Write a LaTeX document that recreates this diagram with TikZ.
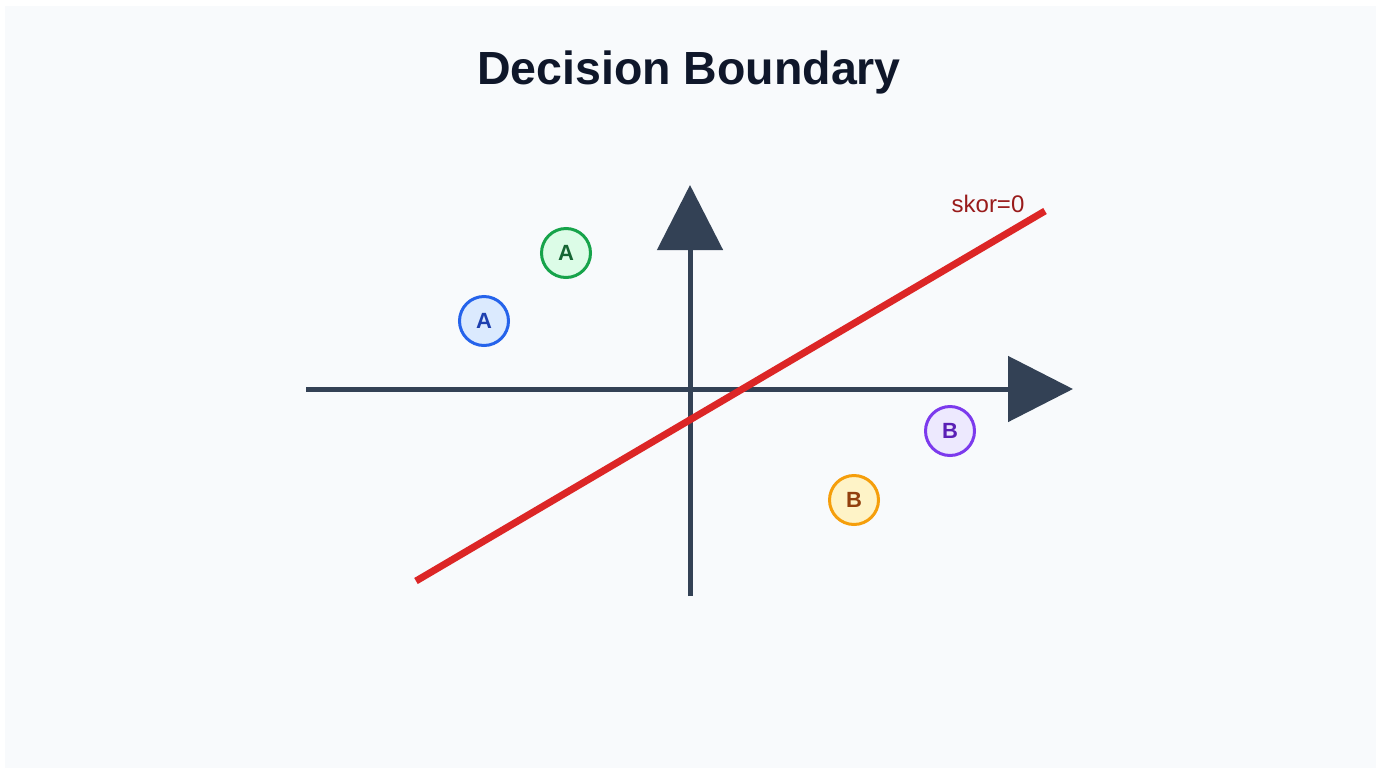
\documentclass[tikz,border=0pt]{standalone}
\usepackage{fontspec}
\setmainfont{Liberation Sans}
\usetikzlibrary{arrows.meta}
\definecolor{panel}{HTML}{F8FAFC}
\definecolor{titlec}{HTML}{0F172A}
\definecolor{axisc}{HTML}{334155}
\definecolor{boundc}{HTML}{DC2626}
\definecolor{labelc}{HTML}{991B1B}
\definecolor{bluedraw}{HTML}{2563EB}\definecolor{bluefill}{HTML}{DBEAFE}\definecolor{bluetext}{HTML}{1E40AF}
\definecolor{greendraw}{HTML}{16A34A}\definecolor{greenfill}{HTML}{DCFCE7}\definecolor{greentext}{HTML}{166534}
\definecolor{purpdraw}{HTML}{7C3AED}\definecolor{purpfill}{HTML}{EDE9FE}\definecolor{purptext}{HTML}{5B21B6}
\definecolor{orgdraw}{HTML}{F59E0B}\definecolor{orgfill}{HTML}{FEF3C7}\definecolor{orgtext}{HTML}{92400E}
\tikzset{
  axisline/.style={draw=axisc, line width=5pt, -{Triangle[length=65pt,width=65pt]}},
  point/.style={circle, minimum size=49pt, inner sep=0pt, line width=3pt, font=\bfseries\fontsize{22}{22}\selectfont},
}
\begin{document}
\begin{tikzpicture}[x=1pt,y=-1pt]
\useasboundingbox (0,0) rectangle (1382,769);
\fill[white] (0,0) rectangle (1382,769);
\fill[panel] (5,6) rectangle (1376,768);
\node[font=\bfseries\fontsize{46.5}{46.5}\selectfont, text=titlec] (title) at (689,72) {Decision Boundary};
% axes
\coordinate (xl) at (306,389);
\coordinate (xr) at (1073,389);
\coordinate (yb) at (690,596);
\coordinate (yt) at (690,185);
\draw[axisline] (xl) -- (xr);
\draw[axisline] (yb) -- (yt);
% decision boundary
\coordinate (bl) at (416,581);
\coordinate (br) at (1045,211);
\draw[boundc, line width=7pt] (bl) -- (br);
\node[text=labelc, font=\fontsize{24}{24}\selectfont] (skor) at (988,204) {skor=0};
% points
\node[point, draw=bluedraw, fill=bluefill, text=bluetext] (a1) at (484,321) {A};
\node[point, draw=greendraw, fill=greenfill, text=greentext] (a2) at (566,253) {A};
\node[point, draw=purpdraw, fill=purpfill, text=purptext] (b1) at (950,431) {B};
\node[point, draw=orgdraw, fill=orgfill, text=orgtext] (b2) at (854,500) {B};
\end{tikzpicture}
\end{document}
